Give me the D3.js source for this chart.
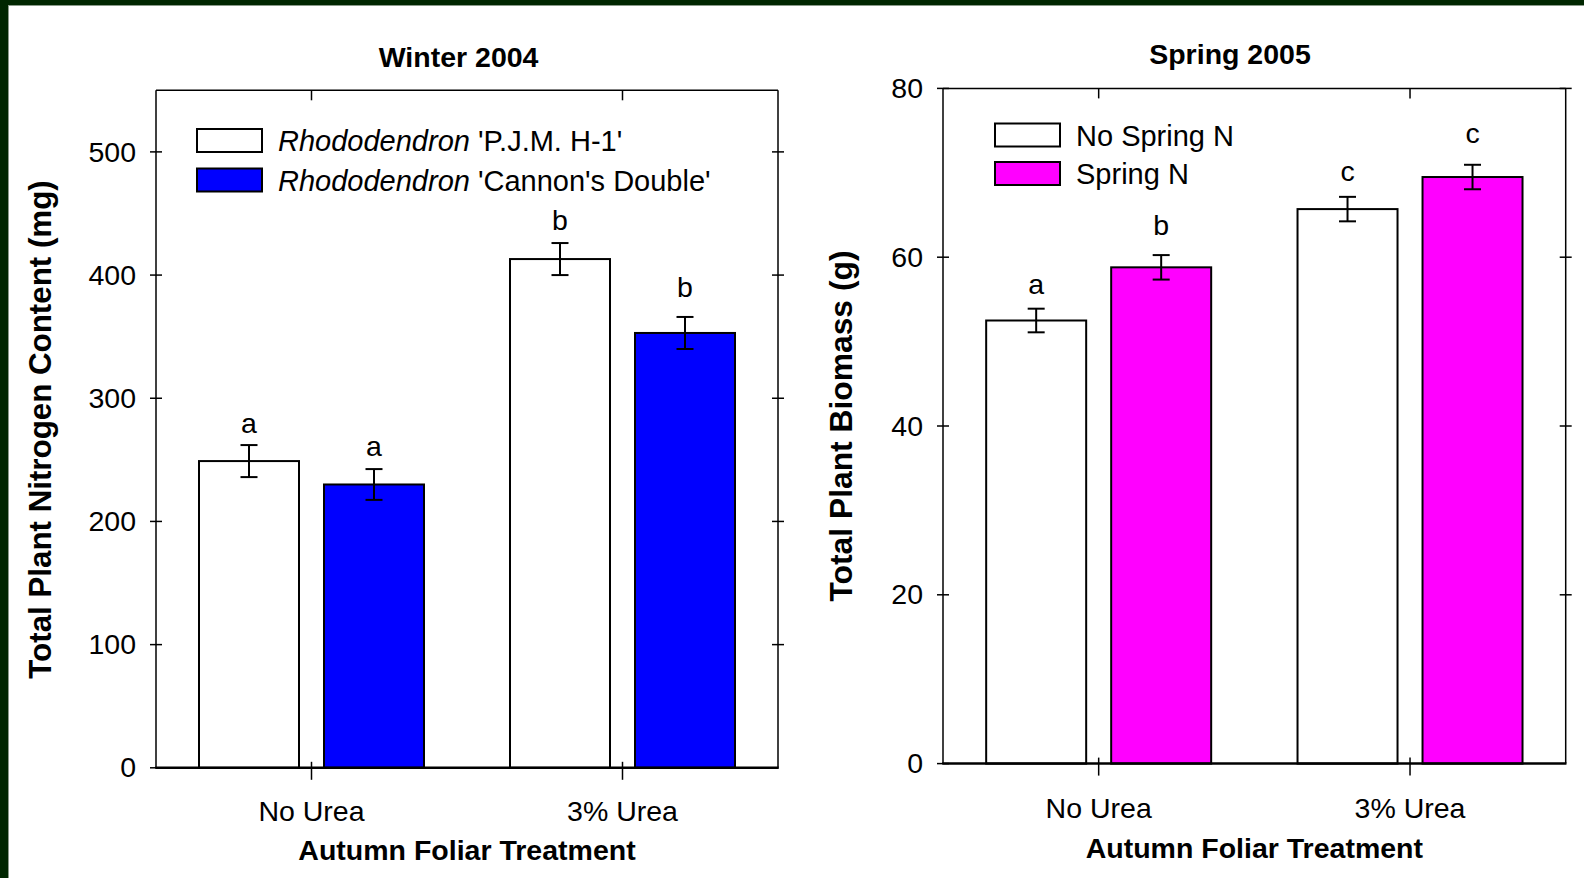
<!DOCTYPE html>
<html>
<head>
<meta charset="utf-8">
<script src="https://cdn.jsdelivr.net/npm/d3@7"></script>
<style>
  html, body { margin: 0; padding: 0; background: #ffffff; }
  svg { display: block; }
  text { font-family: "Liberation Sans", Arial, sans-serif; fill: #000; }
</style>
</head>
<body>
<svg id="chart" width="1584" height="878"></svg>
<script>
// ---- Winter 2004: total plant nitrogen content (mg) ----
const winterCategories = ["No Urea", "3% Urea"];
const winterSeriesGenus = ["Rhododendron", "Rhododendron"];
const winterSeriesCultivar = [" 'P.J.M. H-1'", " 'Cannon's Double'"];
const winterPJM = [249, 413];
const winterPJMErr = [13, 13];
const winterPJMLetters = ["a", "b"];
const winterCannon = [230, 353];
const winterCannonErr = [12.5, 13];
const winterCannonLetters = ["a", "b"];
const winterTicks = [0, 100, 200, 300, 400, 500];

// ---- Spring 2005: total plant biomass (g) ----
const springCategories = ["No Urea", "3% Urea"];
const springSeriesNames = ["No Spring N", "Spring N"];
const springNoN = [52.5, 65.7];
const springNoNErr = [1.4, 1.45];
const springNoNLetters = ["a", "c"];
const springN = [58.8, 69.5];
const springNErr = [1.45, 1.45];
const springNLetters = ["b", "c"];
const springTicks = [0, 20, 40, 60, 80];

const svg = d3.select("#chart");

// dark slide frame along the top and left edges
svg.append("rect").attr("x", 0).attr("y", 0).attr("width", 1584).attr("height", 5).attr("fill", "#002600");
svg.append("rect").attr("x", 0).attr("y", 0).attr("width", 8).attr("height", 878).attr("fill", "#002600");
svg.append("line").attr("x1", 8).attr("x2", 1584).attr("y1", 5.5).attr("y2", 5.5).attr("stroke", "#8a9a8a").attr("stroke-width", 1);
svg.append("line").attr("x1", 8.5).attr("x2", 8.5).attr("y1", 5).attr("y2", 878).attr("stroke", "#8a9a8a").attr("stroke-width", 1);

function drawPanel(p) {
  const g = svg.append("g");
  const x0 = d3.scaleBand().domain(p.categories).range([p.left, p.right]).paddingInner(0).paddingOuter(0);
  const groupW = 225;
  const x1 = d3.scaleBand().domain([0, 1]).range([0, groupW]).paddingInner(0.2).paddingOuter(0);
  const y = d3.scaleLinear().domain(p.domain).range([p.bottom, p.top]);

  // bars with standard-error whiskers and significance letters
  p.series.forEach((s, si) => {
    s.values.forEach((v, ci) => {
      const gx = x0(p.categories[ci]) + (x0.bandwidth() - groupW) / 2 + x1(si);
      const cx = gx + x1.bandwidth() / 2;
      g.append("rect")
        .attr("x", gx).attr("y", y(v))
        .attr("width", x1.bandwidth()).attr("height", y(0) - y(v))
        .attr("fill", s.color).attr("stroke", "#000").attr("stroke-width", 2);
      const e = s.errors[ci];
      g.append("line").attr("x1", cx).attr("x2", cx).attr("y1", y(v + e)).attr("y2", y(v - e))
        .attr("stroke", "#000").attr("stroke-width", 2);
      [v + e, v - e].forEach(ev => {
        g.append("line").attr("x1", cx - 8.5).attr("x2", cx + 8.5).attr("y1", y(ev)).attr("y2", y(ev))
          .attr("stroke", "#000").attr("stroke-width", 2);
      });
      g.append("text").attr("x", cx).attr("y", y(v + e) - p.letterGap[si][ci])
        .attr("text-anchor", "middle").attr("font-size", 28.5).text(s.letters[ci]);
    });
  });

  // plot frame
  g.append("line").attr("x1", p.left).attr("x2", p.right).attr("y1", p.top).attr("y2", p.top).attr("stroke", "#000").attr("stroke-width", 1.5);
  g.append("line").attr("x1", p.left).attr("x2", p.left).attr("y1", p.top).attr("y2", p.bottom).attr("stroke", "#000").attr("stroke-width", 1.5);
  g.append("line").attr("x1", p.right).attr("x2", p.right).attr("y1", p.top).attr("y2", p.bottom).attr("stroke", "#000").attr("stroke-width", 1.5);
  g.append("line").attr("x1", p.left - 0.75).attr("x2", p.right + 0.75).attr("y1", p.bottom).attr("y2", p.bottom).attr("stroke", "#000").attr("stroke-width", 2.5);

  // value axis with labels, ticks crossing the frame on both sides
  const yAxis = d3.axisLeft(y).tickValues(p.ticks).tickSize(0).tickPadding(20);
  const ya = g.append("g").attr("transform", `translate(${p.left},0)`).call(yAxis);
  ya.select(".domain").remove();
  ya.selectAll("text").attr("font-size", 28.5).attr("font-family", "Liberation Sans, Arial, sans-serif").attr("fill", "#000");
  p.ticks.forEach(t => {
    g.append("line").attr("x1", p.left - 6).attr("x2", p.left + 6).attr("y1", y(t)).attr("y2", y(t)).attr("stroke", "#000").attr("stroke-width", 1.5);
    if (t > 0) {
      g.append("line").attr("x1", p.right - 6).attr("x2", p.right + 6).attr("y1", y(t)).attr("y2", y(t)).attr("stroke", "#000").attr("stroke-width", 1.5);
    }
  });

  // category axis
  const xAxis = d3.axisBottom(x0).tickSize(0).tickPadding(p.catPad);
  const xa = g.append("g").attr("transform", `translate(0,${p.bottom})`).call(xAxis);
  xa.select(".domain").remove();
  xa.selectAll("text").attr("font-size", 28.5).attr("font-family", "Liberation Sans, Arial, sans-serif").attr("fill", "#000").attr("dy", 0);
  p.categories.forEach(c => {
    const cx = x0(c) + x0.bandwidth() / 2;
    g.append("line").attr("x1", cx).attr("x2", cx).attr("y1", p.bottom - 6).attr("y2", p.bottom + 12).attr("stroke", "#000").attr("stroke-width", 1.5);
    g.append("line").attr("x1", cx).attr("x2", cx).attr("y1", p.top).attr("y2", p.top + 10).attr("stroke", "#000").attr("stroke-width", 1.5);
  });

  // titles
  g.append("text").attr("x", p.titleX).attr("y", p.titleY).attr("text-anchor", "middle")
    .attr("font-size", 28.5).attr("font-weight", "bold").text(p.title);
  g.append("text").attr("x", (p.left + p.right) / 2).attr("y", p.bottom + p.xTitlePad).attr("text-anchor", "middle")
    .attr("font-size", 28.5).attr("font-weight", "bold").text("Autumn Foliar Treatment");
  g.append("text").attr("transform", `translate(${p.yTitleX},${p.yTitleY}) rotate(-90)`).attr("text-anchor", "middle")
    .attr("font-size", p.yTitleSize).attr("font-weight", "bold").text(p.yTitle);

  // legend
  p.series.forEach((s, si) => {
    const ly = p.legendY + si * p.legendStep;
    g.append("rect").attr("x", p.legendX).attr("y", ly).attr("width", 65).attr("height", 23)
      .attr("fill", s.color).attr("stroke", "#000").attr("stroke-width", 2);
    const t = g.append("text").attr("x", p.legendX + 81).attr("y", ly + 22).attr("font-size", 29);
    if (s.italic) t.append("tspan").attr("font-style", "italic").text(s.italic);
    t.append("tspan").text(s.name);
  });

  return g;
}

drawPanel({
  left: 156, right: 778, top: 90.3, bottom: 767.8,
  domain: [0, 550], ticks: winterTicks, categories: winterCategories,
  series: [
    { values: winterPJM, errors: winterPJMErr, letters: winterPJMLetters, color: "#ffffff", italic: winterSeriesGenus[0], name: winterSeriesCultivar[0] },
    { values: winterCannon, errors: winterCannonErr, letters: winterCannonLetters, color: "#0000ff", italic: winterSeriesGenus[1], name: winterSeriesCultivar[1] }
  ],
  letterGap: [[12, 13], [13, 20]],
  catPad: 53, xTitlePad: 92,
  title: "Winter 2004", titleX: 458.6, titleY: 67,
  yTitle: "Total Plant Nitrogen Content (mg)", yTitleX: 51, yTitleY: 429.5, yTitleSize: 31.3,
  legendX: 197, legendY: 129, legendStep: 39.5
});

drawPanel({
  left: 943, right: 1565.7, top: 88.4, bottom: 763.6,
  domain: [0, 80], ticks: springTicks, categories: springCategories,
  series: [
    { values: springNoN, errors: springNoNErr, letters: springNoNLetters, color: "#ffffff", italic: null, name: springSeriesNames[0] },
    { values: springN, errors: springNErr, letters: springNLetters, color: "#ff00ff", italic: null, name: springSeriesNames[1] }
  ],
  letterGap: [[15, 16], [20, 22]],
  catPad: 54, xTitlePad: 94,
  title: "Spring 2005", titleX: 1230, titleY: 64,
  yTitle: "Total Plant Biomass (g)", yTitleX: 852, yTitleY: 426, yTitleSize: 31.8,
  legendX: 995, legendY: 123.5, legendStep: 38.5
});
</script>
</body>
</html>
